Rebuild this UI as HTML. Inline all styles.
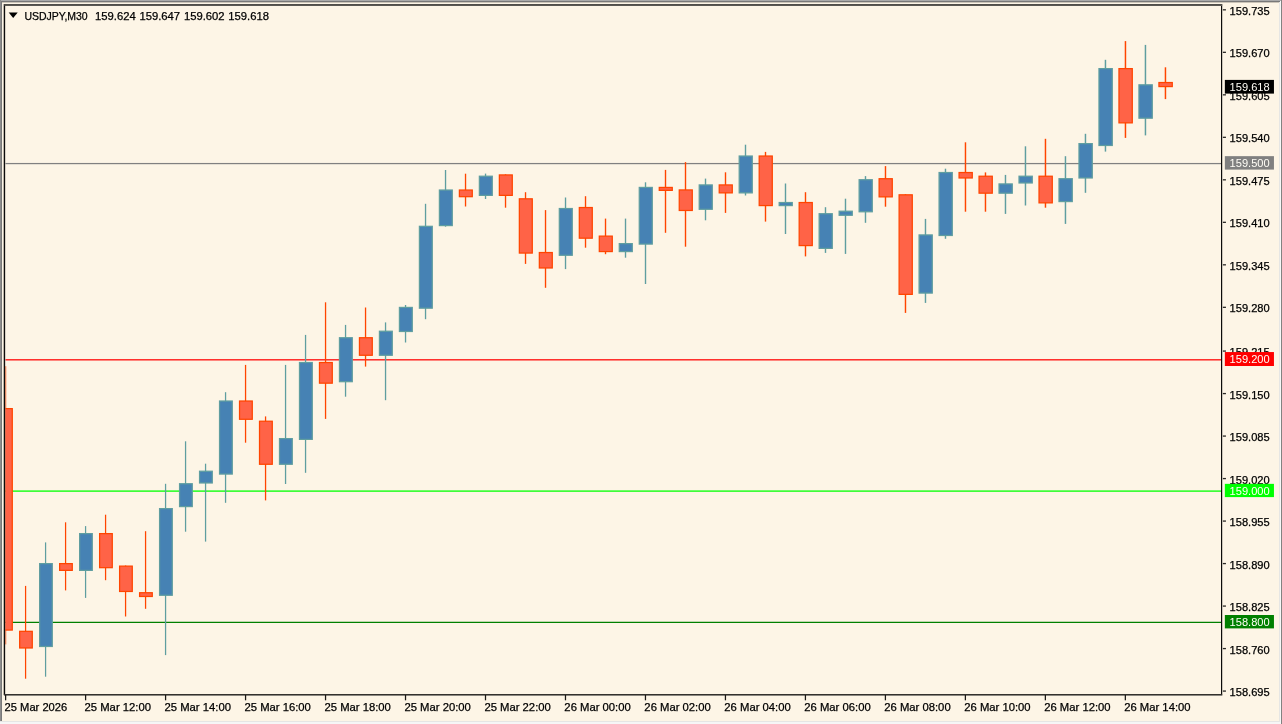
<!DOCTYPE html>
<html lang="en"><head><meta charset="utf-8"><title>USDJPY,M30</title>
<style>html,body{margin:0;padding:0;background:#fdf5e6;overflow:hidden}svg{display:block;position:absolute;left:0;top:0}text{font-family:"Liberation Sans",Arial,sans-serif;font-size:11px;fill:#000;stroke:#000;stroke-width:0.25px}text.w{fill:#fffdf6;stroke:none}</style></head><body>
<svg width="1282" height="724" viewBox="0 0 1282 724">
<rect x="0" y="0" width="1282" height="724" fill="#fdf5e6"/>
<g id="hlines">
<rect x="5.5" y="162.95" width="1215.6" height="1.25" fill="#808080"/>
<rect x="5.5" y="359.2" width="1215.6" height="1.25" fill="#ff0000"/>
<rect x="5.5" y="490.45" width="1215.6" height="1.3" fill="#00ff00"/>
<rect x="5.5" y="621.75" width="1215.6" height="1.25" fill="#008000"/>
</g>
<defs><clipPath id="plot"><rect x="5.5" y="5.6" width="1215.6" height="688.4"/></clipPath></defs>
<g id="candles" clip-path="url(#plot)">
<rect x="4.97" y="366.2" width="1.23" height="278.2" fill="#ff4500"/>
<rect x="-0.325" y="408.62" width="12.6" height="221.45" fill="#ff6347" stroke="#ff4500" stroke-width="1.25"/>
<rect x="24.965" y="585.9" width="1.235" height="92.8" fill="#ff4500"/>
<rect x="19.662" y="631.33" width="12.613" height="16.65" fill="#ff6347" stroke="#ff4500" stroke-width="1.25"/>
<rect x="44.961" y="542.4" width="1.239" height="134.3" fill="#5f9ea0"/>
<rect x="39.65" y="563.62" width="12.625" height="82.85" fill="#4682b4" stroke="#5f9ea0" stroke-width="1.25"/>
<rect x="64.957" y="522.3" width="1.243" height="68.1" fill="#ff4500"/>
<rect x="59.637" y="563.62" width="12.638" height="6.75" fill="#ff6347" stroke="#ff4500" stroke-width="1.25"/>
<rect x="84.952" y="526.1" width="1.248" height="71.8" fill="#5f9ea0"/>
<rect x="79.625" y="533.62" width="12.65" height="36.75" fill="#4682b4" stroke="#5f9ea0" stroke-width="1.25"/>
<rect x="104.948" y="514.7" width="1.252" height="65.5" fill="#ff4500"/>
<rect x="99.612" y="533.62" width="12.663" height="34.05" fill="#ff6347" stroke="#ff4500" stroke-width="1.25"/>
<rect x="124.943" y="565.5" width="1.257" height="51" fill="#ff4500"/>
<rect x="119.599" y="566.12" width="12.676" height="25.35" fill="#ff6347" stroke="#ff4500" stroke-width="1.25"/>
<rect x="144.939" y="531.2" width="1.261" height="77.6" fill="#ff4500"/>
<rect x="139.587" y="592.73" width="12.688" height="3.75" fill="#ff6347" stroke="#ff4500" stroke-width="1.25"/>
<rect x="164.934" y="483.8" width="1.266" height="171.3" fill="#5f9ea0"/>
<rect x="159.574" y="508.62" width="12.701" height="86.65" fill="#4682b4" stroke="#5f9ea0" stroke-width="1.25"/>
<rect x="184.929" y="441.3" width="1.27" height="90.4" fill="#5f9ea0"/>
<rect x="179.562" y="483.73" width="12.713" height="22.85" fill="#4682b4" stroke="#5f9ea0" stroke-width="1.25"/>
<rect x="204.925" y="463.7" width="1.275" height="77.9" fill="#5f9ea0"/>
<rect x="199.549" y="471.23" width="12.726" height="11.75" fill="#4682b4" stroke="#5f9ea0" stroke-width="1.25"/>
<rect x="224.921" y="392.2" width="1.279" height="110.6" fill="#5f9ea0"/>
<rect x="219.536" y="401.02" width="12.739" height="73.05" fill="#4682b4" stroke="#5f9ea0" stroke-width="1.25"/>
<rect x="244.916" y="364.9" width="1.284" height="77.8" fill="#ff4500"/>
<rect x="239.524" y="401.02" width="12.751" height="18.25" fill="#ff6347" stroke="#ff4500" stroke-width="1.25"/>
<rect x="264.912" y="416.4" width="1.288" height="84" fill="#ff4500"/>
<rect x="259.511" y="421.23" width="12.764" height="43.05" fill="#ff6347" stroke="#ff4500" stroke-width="1.25"/>
<rect x="284.907" y="364.9" width="1.293" height="119.1" fill="#5f9ea0"/>
<rect x="279.499" y="438.62" width="12.776" height="25.65" fill="#4682b4" stroke="#5f9ea0" stroke-width="1.25"/>
<rect x="304.903" y="334.9" width="1.297" height="137.9" fill="#5f9ea0"/>
<rect x="299.486" y="362.52" width="12.789" height="76.85" fill="#4682b4" stroke="#5f9ea0" stroke-width="1.25"/>
<rect x="324.898" y="302.3" width="1.302" height="116.6" fill="#ff4500"/>
<rect x="319.473" y="362.52" width="12.802" height="20.65" fill="#ff6347" stroke="#ff4500" stroke-width="1.25"/>
<rect x="344.894" y="324.9" width="1.306" height="71.8" fill="#5f9ea0"/>
<rect x="339.461" y="337.73" width="12.814" height="43.95" fill="#4682b4" stroke="#5f9ea0" stroke-width="1.25"/>
<rect x="364.889" y="307.5" width="1.311" height="59.1" fill="#ff4500"/>
<rect x="359.448" y="337.73" width="12.827" height="17.55" fill="#ff6347" stroke="#ff4500" stroke-width="1.25"/>
<rect x="384.885" y="322.4" width="1.315" height="77.8" fill="#5f9ea0"/>
<rect x="379.436" y="331.23" width="12.839" height="24.05" fill="#4682b4" stroke="#5f9ea0" stroke-width="1.25"/>
<rect x="404.88" y="305" width="1.32" height="37.5" fill="#5f9ea0"/>
<rect x="399.423" y="307.43" width="12.852" height="24.05" fill="#4682b4" stroke="#5f9ea0" stroke-width="1.25"/>
<rect x="424.876" y="203.8" width="1.324" height="115.4" fill="#5f9ea0"/>
<rect x="419.41" y="226.32" width="12.865" height="81.85" fill="#4682b4" stroke="#5f9ea0" stroke-width="1.25"/>
<rect x="444.871" y="170" width="1.329" height="56.7" fill="#5f9ea0"/>
<rect x="439.398" y="190.03" width="12.877" height="35.55" fill="#4682b4" stroke="#5f9ea0" stroke-width="1.25"/>
<rect x="464.867" y="173.7" width="1.333" height="32.8" fill="#ff4500"/>
<rect x="459.385" y="190.03" width="12.89" height="6.65" fill="#ff6347" stroke="#ff4500" stroke-width="1.25"/>
<rect x="484.862" y="173.6" width="1.338" height="25.4" fill="#5f9ea0"/>
<rect x="479.373" y="176.22" width="12.902" height="19.15" fill="#4682b4" stroke="#5f9ea0" stroke-width="1.25"/>
<rect x="504.858" y="174.3" width="1.342" height="33.4" fill="#ff4500"/>
<rect x="499.36" y="174.93" width="12.915" height="20.45" fill="#ff6347" stroke="#ff4500" stroke-width="1.25"/>
<rect x="524.853" y="192.2" width="1.347" height="71.7" fill="#ff4500"/>
<rect x="519.347" y="198.82" width="12.928" height="54.25" fill="#ff6347" stroke="#ff4500" stroke-width="1.25"/>
<rect x="544.849" y="210.1" width="1.351" height="77.7" fill="#ff4500"/>
<rect x="539.335" y="252.53" width="12.94" height="15.45" fill="#ff6347" stroke="#ff4500" stroke-width="1.25"/>
<rect x="564.844" y="197.5" width="1.356" height="71.6" fill="#5f9ea0"/>
<rect x="559.322" y="208.53" width="12.953" height="46.75" fill="#4682b4" stroke="#5f9ea0" stroke-width="1.25"/>
<rect x="584.84" y="196.2" width="1.361" height="51.5" fill="#ff4500"/>
<rect x="579.31" y="207.53" width="12.965" height="30.65" fill="#ff6347" stroke="#ff4500" stroke-width="1.25"/>
<rect x="604.835" y="218.6" width="1.365" height="35.6" fill="#ff4500"/>
<rect x="599.297" y="236.12" width="12.978" height="15.45" fill="#ff6347" stroke="#ff4500" stroke-width="1.25"/>
<rect x="624.831" y="218.6" width="1.37" height="39.1" fill="#5f9ea0"/>
<rect x="619.284" y="243.62" width="12.991" height="7.95" fill="#4682b4" stroke="#5f9ea0" stroke-width="1.25"/>
<rect x="644.826" y="182.3" width="1.374" height="101.7" fill="#5f9ea0"/>
<rect x="639.272" y="187.43" width="13.003" height="56.65" fill="#4682b4" stroke="#5f9ea0" stroke-width="1.25"/>
<rect x="664.822" y="169.9" width="1.379" height="62.9" fill="#ff4500"/>
<rect x="659.259" y="187.43" width="13.016" height="2.95" fill="#ff6347" stroke="#ff4500" stroke-width="1.25"/>
<rect x="684.817" y="162.1" width="1.383" height="84.6" fill="#ff4500"/>
<rect x="679.247" y="189.93" width="13.028" height="20.55" fill="#ff6347" stroke="#ff4500" stroke-width="1.25"/>
<rect x="704.812" y="178.6" width="1.388" height="41.7" fill="#5f9ea0"/>
<rect x="699.234" y="184.93" width="13.041" height="24.35" fill="#4682b4" stroke="#5f9ea0" stroke-width="1.25"/>
<rect x="724.808" y="172.3" width="1.392" height="40.6" fill="#ff4500"/>
<rect x="719.221" y="184.93" width="13.054" height="7.95" fill="#ff6347" stroke="#ff4500" stroke-width="1.25"/>
<rect x="744.803" y="144.7" width="1.397" height="50.8" fill="#5f9ea0"/>
<rect x="739.209" y="156.03" width="13.066" height="36.85" fill="#4682b4" stroke="#5f9ea0" stroke-width="1.25"/>
<rect x="764.799" y="151.9" width="1.401" height="69.7" fill="#ff4500"/>
<rect x="759.196" y="156.03" width="13.079" height="49.55" fill="#ff6347" stroke="#ff4500" stroke-width="1.25"/>
<rect x="784.794" y="183.5" width="1.406" height="50.5" fill="#5f9ea0"/>
<rect x="779.184" y="202.53" width="13.091" height="3.05" fill="#4682b4" stroke="#5f9ea0" stroke-width="1.25"/>
<rect x="804.79" y="192.2" width="1.41" height="64.2" fill="#ff4500"/>
<rect x="799.171" y="202.53" width="13.104" height="43.05" fill="#ff6347" stroke="#ff4500" stroke-width="1.25"/>
<rect x="824.786" y="207.2" width="1.414" height="45.7" fill="#5f9ea0"/>
<rect x="819.158" y="213.72" width="13.117" height="34.65" fill="#4682b4" stroke="#5f9ea0" stroke-width="1.25"/>
<rect x="844.781" y="198.7" width="1.419" height="55.2" fill="#5f9ea0"/>
<rect x="839.146" y="211.22" width="13.129" height="4.05" fill="#4682b4" stroke="#5f9ea0" stroke-width="1.25"/>
<rect x="864.777" y="176.1" width="1.423" height="46.7" fill="#5f9ea0"/>
<rect x="859.133" y="179.72" width="13.142" height="32.05" fill="#4682b4" stroke="#5f9ea0" stroke-width="1.25"/>
<rect x="884.772" y="166.1" width="1.428" height="40.6" fill="#ff4500"/>
<rect x="879.121" y="178.72" width="13.154" height="18.15" fill="#ff6347" stroke="#ff4500" stroke-width="1.25"/>
<rect x="904.768" y="194.2" width="1.433" height="118.7" fill="#ff4500"/>
<rect x="899.108" y="194.82" width="13.167" height="99.55" fill="#ff6347" stroke="#ff4500" stroke-width="1.25"/>
<rect x="924.763" y="218.9" width="1.437" height="84" fill="#5f9ea0"/>
<rect x="919.095" y="234.93" width="13.18" height="58.15" fill="#4682b4" stroke="#5f9ea0" stroke-width="1.25"/>
<rect x="944.759" y="168.7" width="1.442" height="70.1" fill="#5f9ea0"/>
<rect x="939.083" y="172.53" width="13.192" height="62.95" fill="#4682b4" stroke="#5f9ea0" stroke-width="1.25"/>
<rect x="964.754" y="142.3" width="1.446" height="69.4" fill="#ff4500"/>
<rect x="959.07" y="172.53" width="13.205" height="5.45" fill="#ff6347" stroke="#ff4500" stroke-width="1.25"/>
<rect x="984.75" y="172.4" width="1.451" height="39.3" fill="#ff4500"/>
<rect x="979.058" y="176.22" width="13.217" height="16.95" fill="#ff6347" stroke="#ff4500" stroke-width="1.25"/>
<rect x="1004.75" y="174.9" width="1.455" height="39" fill="#5f9ea0"/>
<rect x="999.045" y="183.93" width="13.23" height="9.25" fill="#4682b4" stroke="#5f9ea0" stroke-width="1.25"/>
<rect x="1024.74" y="146.3" width="1.459" height="59.2" fill="#5f9ea0"/>
<rect x="1019.03" y="176.22" width="13.243" height="6.75" fill="#4682b4" stroke="#5f9ea0" stroke-width="1.25"/>
<rect x="1044.74" y="138.8" width="1.464" height="68.9" fill="#ff4500"/>
<rect x="1039.02" y="176.22" width="13.255" height="26.65" fill="#ff6347" stroke="#ff4500" stroke-width="1.25"/>
<rect x="1064.73" y="156.2" width="1.468" height="67.7" fill="#5f9ea0"/>
<rect x="1059.01" y="178.72" width="13.268" height="22.85" fill="#4682b4" stroke="#5f9ea0" stroke-width="1.25"/>
<rect x="1084.73" y="133.8" width="1.473" height="59" fill="#5f9ea0"/>
<rect x="1078.99" y="143.62" width="13.28" height="34.35" fill="#4682b4" stroke="#5f9ea0" stroke-width="1.25"/>
<rect x="1104.72" y="59.8" width="1.477" height="91.8" fill="#5f9ea0"/>
<rect x="1098.98" y="68.62" width="13.293" height="76.85" fill="#4682b4" stroke="#5f9ea0" stroke-width="1.25"/>
<rect x="1124.72" y="41.1" width="1.482" height="96.8" fill="#ff4500"/>
<rect x="1118.97" y="68.62" width="13.306" height="54.25" fill="#ff6347" stroke="#ff4500" stroke-width="1.25"/>
<rect x="1144.71" y="44.9" width="1.486" height="90.5" fill="#5f9ea0"/>
<rect x="1138.96" y="84.83" width="13.318" height="33.35" fill="#4682b4" stroke="#5f9ea0" stroke-width="1.25"/>
<rect x="1164.71" y="67.3" width="1.491" height="31.8" fill="#ff4500"/>
<rect x="1158.94" y="82.53" width="13.331" height="4.05" fill="#ff6347" stroke="#ff4500" stroke-width="1.25"/>
</g>
<g id="frame">
<rect x="0" y="0" width="1282" height="1" fill="#aaaaaa"/>
<rect x="0" y="1" width="1282" height="1" fill="#787878"/>
<rect x="2" y="2" width="1277" height="1" fill="#cbc4b8"/>
<rect x="0" y="0" width="1" height="721" fill="#8c8c8c"/>
<rect x="1" y="1" width="1" height="720" fill="#797979"/>
<rect x="3" y="4" width="1" height="691" fill="#c5bdb0"/>
<rect x="0" y="721" width="1282" height="1" fill="#e6e6e4"/>
<rect x="0" y="722" width="1282" height="2" fill="#f6f6f6"/>
<rect x="1279" y="2" width="1" height="720" fill="#e6e6e4"/>
<rect x="1280" y="1" width="1" height="723" fill="#f8f8f8"/>
<rect x="1281" y="0" width="1" height="724" fill="#828282"/>
<rect x="3.95" y="4.2" width="1.2" height="691.2" fill="#0c0b0a"/>
<rect x="1221" y="4.2" width="1.2" height="691.2" fill="#0c0b0a"/>
<rect x="4.4" y="4" width="1217.8" height="1" fill="#504e49"/>
<rect x="4.4" y="5" width="1217.8" height="1" fill="#5a5852"/>
<rect x="3.95" y="694" width="1218.25" height="1" fill="#33312d"/>
<rect x="3.95" y="695" width="1218.25" height="1" fill="#8a8780"/>
</g>
<g id="paxis">
<rect x="1222.85" y="9.175" width="3.1" height="1.3" fill="#2a2826"/>
<text x="1229.6" y="14.825" textLength="40.1" lengthAdjust="spacingAndGlyphs">159.735</text>
<rect x="1222.85" y="51.675" width="3.1" height="1.3" fill="#2a2826"/>
<text x="1229.6" y="57.325" textLength="40.1" lengthAdjust="spacingAndGlyphs">159.670</text>
<rect x="1222.85" y="94.175" width="3.1" height="1.3" fill="#2a2826"/>
<text x="1229.6" y="99.825" textLength="40.1" lengthAdjust="spacingAndGlyphs">159.605</text>
<rect x="1222.85" y="136.675" width="3.1" height="1.3" fill="#2a2826"/>
<text x="1229.6" y="142.325" textLength="40.1" lengthAdjust="spacingAndGlyphs">159.540</text>
<rect x="1222.85" y="179.175" width="3.1" height="1.3" fill="#2a2826"/>
<text x="1229.6" y="184.825" textLength="40.1" lengthAdjust="spacingAndGlyphs">159.475</text>
<rect x="1222.85" y="221.675" width="3.1" height="1.3" fill="#2a2826"/>
<text x="1229.6" y="227.325" textLength="40.1" lengthAdjust="spacingAndGlyphs">159.410</text>
<rect x="1222.85" y="264.175" width="3.1" height="1.3" fill="#2a2826"/>
<text x="1229.6" y="269.825" textLength="40.1" lengthAdjust="spacingAndGlyphs">159.345</text>
<rect x="1222.85" y="306.675" width="3.1" height="1.3" fill="#2a2826"/>
<text x="1229.6" y="312.325" textLength="40.1" lengthAdjust="spacingAndGlyphs">159.280</text>
<rect x="1222.85" y="350.425" width="3.1" height="1.3" fill="#2a2826"/>
<text x="1229.6" y="356.075" textLength="40.1" lengthAdjust="spacingAndGlyphs">159.215</text>
<rect x="1222.85" y="392.925" width="3.1" height="1.3" fill="#2a2826"/>
<text x="1229.6" y="398.575" textLength="40.1" lengthAdjust="spacingAndGlyphs">159.150</text>
<rect x="1222.85" y="435.425" width="3.1" height="1.3" fill="#2a2826"/>
<text x="1229.6" y="441.075" textLength="40.1" lengthAdjust="spacingAndGlyphs">159.085</text>
<rect x="1222.85" y="477.925" width="3.1" height="1.3" fill="#2a2826"/>
<text x="1229.6" y="483.575" textLength="40.1" lengthAdjust="spacingAndGlyphs">159.020</text>
<rect x="1222.85" y="520.425" width="3.1" height="1.3" fill="#2a2826"/>
<text x="1229.6" y="526.075" textLength="40.1" lengthAdjust="spacingAndGlyphs">158.955</text>
<rect x="1222.85" y="562.925" width="3.1" height="1.3" fill="#2a2826"/>
<text x="1229.6" y="568.575" textLength="40.1" lengthAdjust="spacingAndGlyphs">158.890</text>
<rect x="1222.85" y="605.425" width="3.1" height="1.3" fill="#2a2826"/>
<text x="1229.6" y="611.075" textLength="40.1" lengthAdjust="spacingAndGlyphs">158.825</text>
<rect x="1222.85" y="647.925" width="3.1" height="1.3" fill="#2a2826"/>
<text x="1229.6" y="653.575" textLength="40.1" lengthAdjust="spacingAndGlyphs">158.760</text>
<rect x="1222.85" y="690.425" width="3.1" height="1.3" fill="#2a2826"/>
<text x="1229.6" y="696.075" textLength="40.1" lengthAdjust="spacingAndGlyphs">158.695</text>
<rect x="1224.85" y="156.15" width="49.1" height="13.45" fill="#808080"/>
<text class="w" x="1229.6" y="167.2" textLength="40.1" lengthAdjust="spacingAndGlyphs">159.500</text>
<rect x="1224.85" y="352.05" width="49.1" height="13.95" fill="#ff0000"/>
<text class="w" x="1229.6" y="363.3" textLength="40.1" lengthAdjust="spacingAndGlyphs">159.200</text>
<rect x="1224.85" y="483.85" width="49.1" height="13.25" fill="#00ff00"/>
<text class="w" x="1229.6" y="495" textLength="40.1" lengthAdjust="spacingAndGlyphs">159.000</text>
<rect x="1224.85" y="615" width="49.1" height="13.4" fill="#008000"/>
<text class="w" x="1229.6" y="626.3" textLength="40.1" lengthAdjust="spacingAndGlyphs">158.800</text>
<rect x="1224.85" y="79.9" width="49.1" height="13.7" fill="#000000"/>
<text class="w" x="1229.6" y="91.1" textLength="40.1" lengthAdjust="spacingAndGlyphs">159.618</text>
</g>
<g id="taxis">
<rect x="5" y="695" width="1.25" height="5.3" fill="#1a1816"/>
<text x="4.6" y="711.1" textLength="62.6" lengthAdjust="spacingAndGlyphs">25 Mar 2026</text>
<rect x="84.98" y="695" width="1.25" height="5.3" fill="#1a1816"/>
<text x="84.57" y="711.1" textLength="66.4" lengthAdjust="spacingAndGlyphs">25 Mar 12:00</text>
<rect x="164.96" y="695" width="1.25" height="5.3" fill="#1a1816"/>
<text x="164.54" y="711.1" textLength="66.4" lengthAdjust="spacingAndGlyphs">25 Mar 14:00</text>
<rect x="244.94" y="695" width="1.25" height="5.3" fill="#1a1816"/>
<text x="244.51" y="711.1" textLength="66.4" lengthAdjust="spacingAndGlyphs">25 Mar 16:00</text>
<rect x="324.92" y="695" width="1.25" height="5.3" fill="#1a1816"/>
<text x="324.48" y="711.1" textLength="66.4" lengthAdjust="spacingAndGlyphs">25 Mar 18:00</text>
<rect x="404.9" y="695" width="1.25" height="5.3" fill="#1a1816"/>
<text x="404.45" y="711.1" textLength="66.4" lengthAdjust="spacingAndGlyphs">25 Mar 20:00</text>
<rect x="484.88" y="695" width="1.25" height="5.3" fill="#1a1816"/>
<text x="484.42" y="711.1" textLength="66.4" lengthAdjust="spacingAndGlyphs">25 Mar 22:00</text>
<rect x="564.86" y="695" width="1.25" height="5.3" fill="#1a1816"/>
<text x="564.39" y="711.1" textLength="66.4" lengthAdjust="spacingAndGlyphs">26 Mar 00:00</text>
<rect x="644.84" y="695" width="1.25" height="5.3" fill="#1a1816"/>
<text x="644.36" y="711.1" textLength="66.4" lengthAdjust="spacingAndGlyphs">26 Mar 02:00</text>
<rect x="724.82" y="695" width="1.25" height="5.3" fill="#1a1816"/>
<text x="724.33" y="711.1" textLength="66.4" lengthAdjust="spacingAndGlyphs">26 Mar 04:00</text>
<rect x="804.8" y="695" width="1.25" height="5.3" fill="#1a1816"/>
<text x="804.3" y="711.1" textLength="66.4" lengthAdjust="spacingAndGlyphs">26 Mar 06:00</text>
<rect x="884.78" y="695" width="1.25" height="5.3" fill="#1a1816"/>
<text x="884.27" y="711.1" textLength="66.4" lengthAdjust="spacingAndGlyphs">26 Mar 08:00</text>
<rect x="964.76" y="695" width="1.25" height="5.3" fill="#1a1816"/>
<text x="964.24" y="711.1" textLength="66.4" lengthAdjust="spacingAndGlyphs">26 Mar 10:00</text>
<rect x="1044.74" y="695" width="1.25" height="5.3" fill="#1a1816"/>
<text x="1044.21" y="711.1" textLength="66.4" lengthAdjust="spacingAndGlyphs">26 Mar 12:00</text>
<rect x="1124.72" y="695" width="1.25" height="5.3" fill="#1a1816"/>
<text x="1124.18" y="711.1" textLength="66.4" lengthAdjust="spacingAndGlyphs">26 Mar 14:00</text>
</g>
<path d="M8.7 12.4 L17.7 12.4 L13.2 18 Z" fill="#000"/>
<text x="24.4" y="19.7" textLength="63.3" lengthAdjust="spacingAndGlyphs">USDJPY,M30</text>
<text x="95" y="19.7" textLength="40.7" lengthAdjust="spacingAndGlyphs">159.624</text>
<text x="139.4" y="19.7" textLength="40.7" lengthAdjust="spacingAndGlyphs">159.647</text>
<text x="183.9" y="19.7" textLength="40.7" lengthAdjust="spacingAndGlyphs">159.602</text>
<text x="228.3" y="19.7" textLength="40.7" lengthAdjust="spacingAndGlyphs">159.618</text>
</svg></body></html>
